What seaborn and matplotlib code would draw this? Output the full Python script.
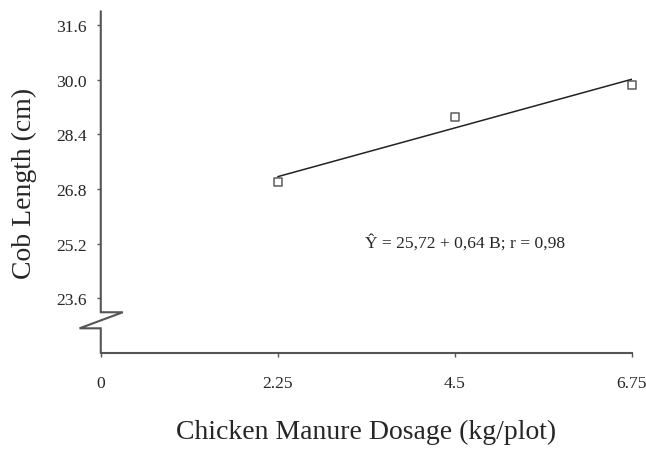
import pandas as pd
import seaborn as sns
import matplotlib.pyplot as plt

# manure dosage (kg/plot) and mean cob length (cm)
dosage = [2.25, 4.5, 6.75]
cob_length = [27.0, 28.9, 29.85]
x_ticks = [0, 2.25, 4.5, 6.75]
x_tick_labels = ['0', '2.25', '4.5', '6.75']
y_ticks = [23.6, 25.2, 26.8, 28.4, 30.0, 31.6]
equation = 'Ŷ = 25,72 + 0,64 B; r = 0,98'

df = pd.DataFrame({'dosage': dosage, 'cob_length': cob_length})

sns.set_style('white')
plt.rcParams['font.family'] = ['Liberation Serif', 'DejaVu Serif']

fig = plt.figure(figsize=(6.46, 4.52), dpi=100)
ax = fig.add_axes([0.156, 0.217, 0.822, 0.756])

sns.regplot(data=df, x='dosage', y='cob_length', ci=None, ax=ax,
            marker='s', color='black',
            scatter_kws={'s': 30, 'facecolors': 'white', 'edgecolors': '#333333',
                         'linewidths': 1.1, 'zorder': 3, 'clip_on': False},
            line_kws={'lw': 1.1, 'color': '#222222'})

ax.set_xlim(0, 6.75)
ax.set_ylim(22.0, 32.0)
ax.set_xticks(x_ticks, x_tick_labels)
ax.set_yticks(y_ticks, [f'{v:.1f}' for v in y_ticks])

ax.text(3.36, 25.23, equation, fontsize=12.6, va='center', ha='left')

# axis styling
for side in ['top', 'right', 'left']:
    ax.spines[side].set_visible(False)
ax.spines['bottom'].set_color('#555555')
ax.spines['bottom'].set_linewidth(1.5)

# broken y axis with zigzag
ax.plot([0, 0, 0.28, -0.27, 0, 0], [32.0, 23.19, 23.19, 22.72, 22.72, 22.0],
        color='#555555', lw=1.5, clip_on=False, solid_joinstyle='miter')

ax.tick_params(axis='both', direction='out', length=3, width=1, color='#555555',
               left=True, bottom=True, labelsize=12.6)
ax.tick_params(axis='y', pad=7)
ax.tick_params(axis='x', pad=13)

ax.set_xlabel('Chicken Manure Dosage (kg/plot)', fontsize=20, labelpad=20)
ax.set_ylabel('Cob Length (cm)', fontsize=20, labelpad=14)

plt.savefig('out.png', dpi=100)
plt.close()
